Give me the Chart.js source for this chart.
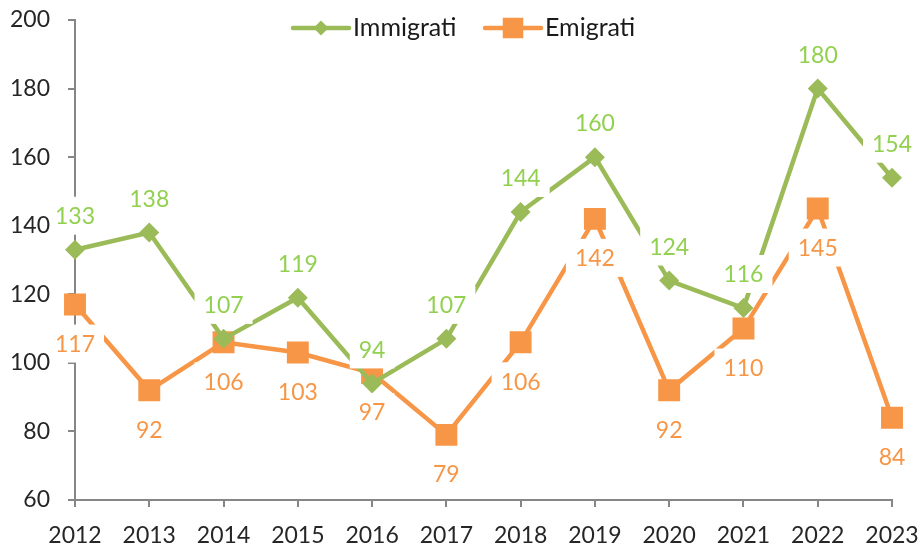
<!DOCTYPE html>
<html lang="it">
<head>
  <meta charset="UTF-8">
  <title>Immigrati ed Emigrati</title>
  <script src="https://cdn.jsdelivr.net/npm/chart.js"></script>
  <style>
    body { margin: 0; background: #fff; }
    #wrap { width: 922px; height: 546px; }
  </style>
</head>
<body>
  <div id="wrap"><canvas id="chart" width="922" height="546"></canvas></div>

  <script>
    // dati
    const years = ['2012', '2013', '2014', '2015', '2016', '2017', '2018', '2019', '2020', '2021', '2022', '2023'];
    const immigrati = [133, 138, 107, 119, 94, 107, 144, 160, 124, 116, 180, 154];
    const emigrati = [117, 92, 106, 103, 97, 79, 106, 142, 92, 110, 145, 84];
    const yMin = 60, yMax = 200, yStep = 20;

    const GREEN = '#9BBB59';
    const GREEN_TXT = '#92D050';
    const ORANGE = '#F79646';
    const AXIS = '#868686';
    const FONT = 'Lato, "Open Sans", sans-serif';
    const FSIZE = 23;

    // etichette dei valori con riquadro bianco
    const valueLabels = {
      id: 'valueLabels',
      afterDatasetsDraw(chart) {
        const ctx = chart.ctx;
        const minX = chart.chartArea.left - 20;
        ctx.save();
        ctx.font = FSIZE + 'px ' + FONT;
        ctx.textAlign = 'center';
        ctx.textBaseline = 'alphabetic';
        chart.data.datasets.forEach((ds, i) => {
          const meta = chart.getDatasetMeta(i);
          meta.data.forEach((pt, j) => {
            const txt = String(ds.data[j]);
            const cy = pt.y + ds.labelOffset;
            const w = ctx.measureText(txt).width + 18;
            const left = Math.max(pt.x - w / 2, minX);
            ctx.fillStyle = '#fff';
            ctx.fillRect(left, cy - 19, pt.x + w / 2 - left, 38);
            ctx.fillStyle = ds.labelColor;
            ctx.fillText(txt, pt.x, cy + FSIZE * 0.36);
          });
        });
        ctx.restore();
      }
    };

    // legenda disegnata a mano: linea con marcatore
    const lineLegend = {
      id: 'lineLegend',
      afterDraw(chart) {
        const ctx = chart.ctx;
        const items = [
          { ds: chart.data.datasets[0], x: 293, style: 'rectRot', r: 7.5 },
          { ds: chart.data.datasets[1], x: 485, style: 'rect', r: 14.5 }
        ];
        const y = 28;
        ctx.save();
        items.forEach(it => {
          ctx.strokeStyle = it.ds.borderColor;
          ctx.lineWidth = 4.5;
          ctx.lineCap = 'round';
          ctx.beginPath();
          ctx.moveTo(it.x, y);
          ctx.lineTo(it.x + 56, y);
          ctx.stroke();
          ctx.fillStyle = it.ds.borderColor;
          Chart.helpers.drawPoint(ctx, { pointStyle: it.style, radius: it.r, borderWidth: 0 }, it.x + 28, y);
          ctx.font = '25px ' + FONT;
          ctx.fillStyle = '#1a1a1a';
          ctx.textAlign = 'left';
          ctx.textBaseline = 'middle';
          ctx.fillText(it.ds.label, it.x + 60, y);
        });
        ctx.restore();
      }
    };

    new Chart(document.getElementById('chart'), {
      type: 'line',
      data: {
        labels: years,
        datasets: [
          {
            label: 'Immigrati',
            data: immigrati,
            borderColor: GREEN,
            backgroundColor: GREEN,
            borderWidth: 4.5,
            pointStyle: 'rectRot',
            pointRadius: 10,
            pointBorderWidth: 0,
            tension: 0,
            labelColor: GREEN_TXT,
            labelOffset: -34
          },
          {
            label: 'Emigrati',
            data: emigrati,
            borderColor: ORANGE,
            backgroundColor: ORANGE,
            borderWidth: 4.5,
            pointStyle: 'rect',
            pointRadius: 15.5,
            pointBorderWidth: 0,
            tension: 0,
            labelColor: ORANGE,
            labelOffset: 39
          }
        ]
      },
      options: {
        responsive: false,
        animation: false,
        layout: { padding: { top: 20, right: 30, left: 0, bottom: 0 } },
        plugins: {
          legend: { display: false },
          tooltip: { enabled: false }
        },
        scales: {
          x: {
            offset: false,
            grid: { drawOnChartArea: false, drawTicks: true, tickLength: 7, color: AXIS, lineWidth: 2 },
            border: { color: AXIS, width: 2 },
            ticks: { color: '#262626', font: { family: FONT, size: FSIZE }, padding: 15, maxRotation: 0, autoSkip: false },
            afterFit(scale) {
              scale.height = 46;
              scale.paddingLeft = 0;
              scale.paddingRight = 0;
            }
          },
          y: {
            min: yMin,
            max: yMax,
            grid: { drawOnChartArea: false, drawTicks: true, tickLength: 7, color: AXIS, lineWidth: 2 },
            border: { color: AXIS, width: 2 },
            ticks: { stepSize: yStep, color: '#262626', font: { family: FONT, size: FSIZE }, padding: 18 },
            afterFit(scale) {
              scale.width = 75;
              scale.paddingTop = 0;
              scale.paddingBottom = 0;
            }
          }
        }
      },
      plugins: [valueLabels, lineLegend]
    });
  </script>
</body>
</html>
